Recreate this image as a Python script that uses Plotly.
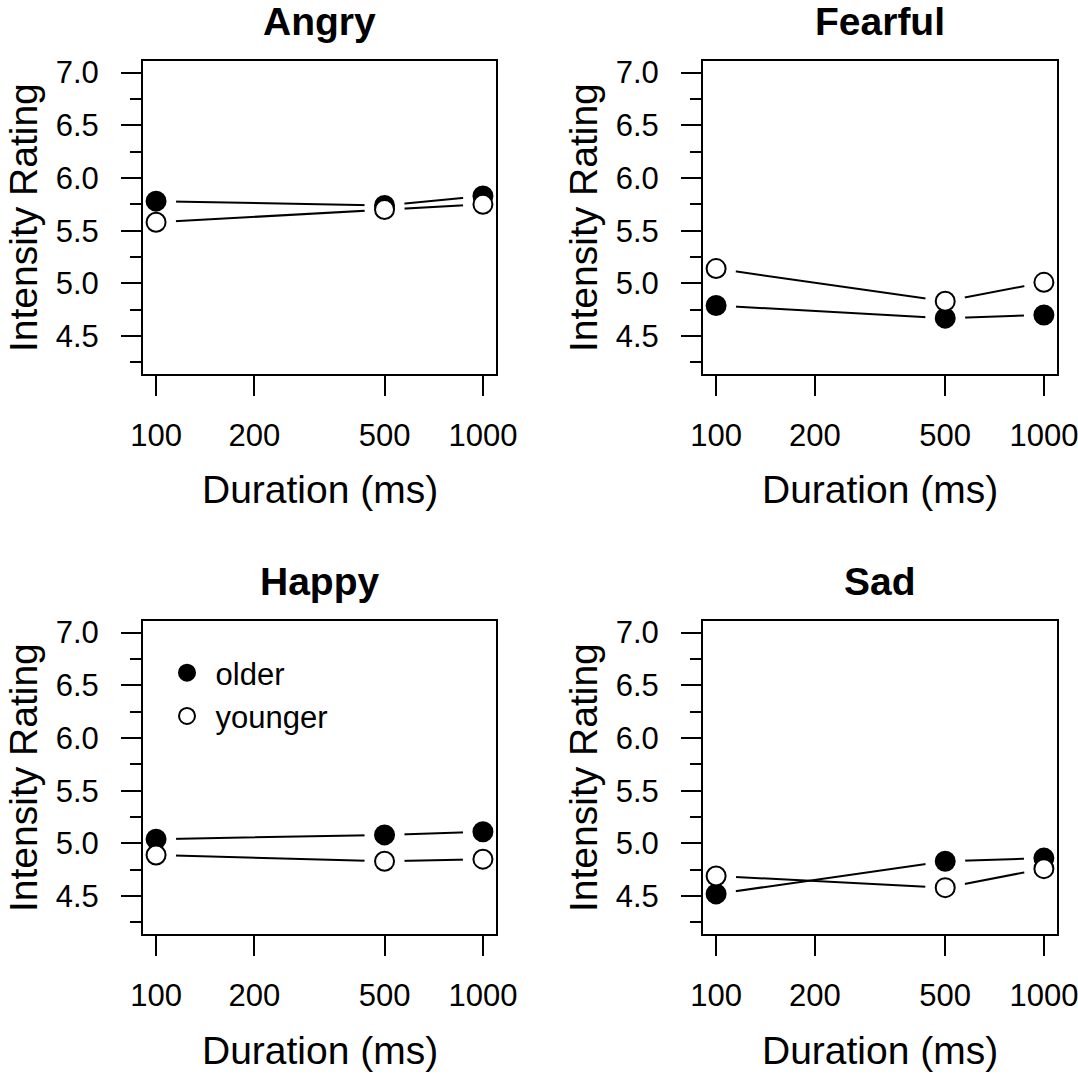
import plotly.graph_objects as go

# ---------------- data ----------------
durations = [100, 500, 1000]
emotions = ["Angry", "Fearful", "Happy", "Sad"]
older_angry = [5.78, 5.74, 5.83]
younger_angry = [5.58, 5.70, 5.75]
older_fearful = [4.79, 4.67, 4.70]
younger_fearful = [5.14, 4.83, 5.01]
older_happy = [5.04, 5.08, 5.11]
younger_happy = [4.89, 4.83, 4.85]
older_sad = [4.52, 4.83, 4.86]
younger_sad = [4.69, 4.58, 4.76]
older_vals = [older_angry, older_fearful, older_happy, older_sad]
younger_vals = [younger_angry, younger_fearful, younger_happy, younger_sad]
x_tick_vals = [100, 200, 500, 1000]
x_tick_text = ["100", "200", "500", "1000"]
y_range = [4.14, 7.11]
x_log_range = [1.96, 3.04]

W, H = 1078, 1075
FONT = "Liberation Sans, Arial, Helvetica, sans-serif"

def px_x(p):
    return p / W

def px_y(p):
    return 1 - p / H

# panel boxes in pixels (left, right, top, bottom)
boxes = [(143, 496, 61, 374), (703, 1057, 61, 374),
         (143, 496, 621, 934), (703, 1057, 621, 934)]

fig = go.Figure()
layout = dict(width=W, height=H, margin=dict(l=0, r=0, t=0, b=0, autoexpand=False),
              paper_bgcolor="white", plot_bgcolor="white",
              font=dict(family=FONT, color="black"),
              annotations=[], showlegend=True)

for i, (emo, ov, yv) in enumerate(zip(emotions, older_vals, younger_vals)):
    sfx = "" if i == 0 else str(i + 1)
    xa, ya = "x" + sfx, "y" + sfx
    l, r, t, b = boxes[i]
    common_axis = dict(showline=True, mirror=True, linecolor="black", linewidth=2,
                       ticks="outside", tickcolor="black", tickwidth=2, ticklen=20,
                       showgrid=False, zeroline=False, automargin=False,
                       ticklabeloverflow="allow",
                       tickfont=dict(family=FONT, size=31, color="black"))
    layout["xaxis" + sfx] = dict(common_axis, type="log", range=x_log_range,
                                 domain=[px_x(l), px_x(r)], anchor=ya,
                                 tickmode="array", tickvals=x_tick_vals, ticktext=x_tick_text,
                                 ticklabelstandoff=13)
    layout["yaxis" + sfx] = dict(common_axis, range=y_range,
                                 domain=[px_y(b), px_y(t)], anchor=xa,
                                 tick0=0, dtick=0.5, tickformat=".1f",
                                 ticklabelstandoff=16,
                                 minor=dict(tick0=0, dtick=0.25, ticks="outside", ticklen=11,
                                            tickwidth=2, tickcolor="black", showgrid=False))
    # lines
    for vals in (ov, yv):
        fig.add_trace(go.Scatter(x=durations, y=vals, mode="lines", xaxis=xa, yaxis=ya,
                                 line=dict(color="black", width=2), showlegend=False,
                                 hoverinfo="skip"))
    # white halos (type="b" gaps)
    for vals in (ov, yv):
        fig.add_trace(go.Scatter(x=durations, y=vals, mode="markers", xaxis=xa, yaxis=ya,
                                 marker=dict(size=40, color="white", line=dict(width=0)),
                                 showlegend=False, hoverinfo="skip"))
    # points
    fig.add_trace(go.Scatter(x=durations, y=ov, mode="markers", xaxis=xa, yaxis=ya,
                             name=" older", legendgroup="older", showlegend=(i == 0),
                             marker=dict(size=19, color="black", symbol="circle",
                                         line=dict(color="black", width=2))))
    fig.add_trace(go.Scatter(x=durations, y=yv, mode="markers", xaxis=xa, yaxis=ya,
                             name=" younger", legendgroup="younger", showlegend=(i == 0),
                             marker=dict(size=19, color="white", symbol="circle",
                                         line=dict(color="black", width=2))))
    cx = (l + r) / 2
    # title
    layout["annotations"].append(dict(text="<b>%s</b>" % emo, x=px_x(cx), y=px_y(t - 39.5),
                                      xref="paper", yref="paper", xanchor="center", yanchor="middle",
                                      showarrow=False, font=dict(family=FONT, size=39, color="black")))
    # x title
    layout["annotations"].append(dict(text="Duration (ms)", x=px_x(cx), y=px_y(b + 116),
                                      xref="paper", yref="paper", xanchor="center", yanchor="middle",
                                      showarrow=False, font=dict(family=FONT, size=39, color="black")))
    # y title
    layout["annotations"].append(dict(text="Intensity Rating", x=px_x(l - 119.5), y=px_y((t + b) / 2),
                                      xref="paper", yref="paper", xanchor="center", yanchor="middle",
                                      textangle=-90, showarrow=False,
                                      font=dict(family=FONT, size=39, color="black")))

layout["legend"] = dict(x=px_x(167), y=px_y(646), xanchor="left", yanchor="top",
                        bgcolor="rgba(0,0,0,0)", borderwidth=0, tracegroupgap=0,
                        font=dict(family=FONT, size=31, color="black"))

fig.update_layout(**layout)
fig.write_html("out.html")
